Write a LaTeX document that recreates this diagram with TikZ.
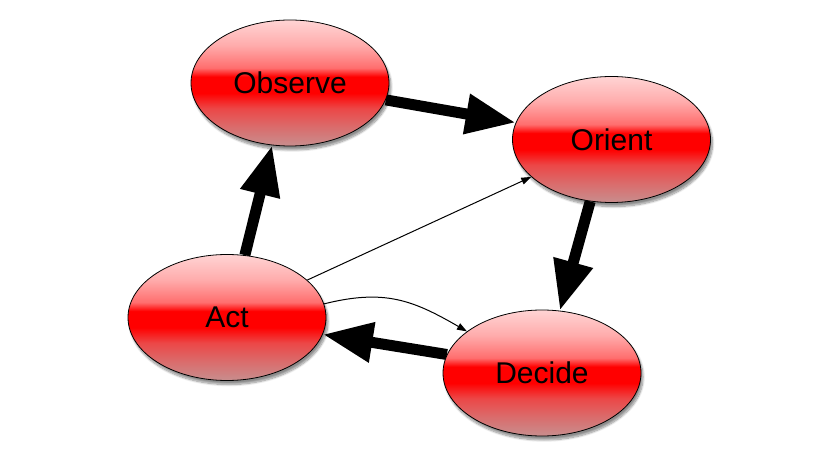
\documentclass[tikz,border=0pt]{standalone}
\usepackage{fontspec}
\setmainfont{Liberation Sans}
\usetikzlibrary{arrows.meta,shapes.geometric,shadows.blur,backgrounds}
\definecolor{gt}{RGB}{255,212,212}
\definecolor{gtwo}{RGB}{255,172,172}
\definecolor{gthree}{RGB}{255,110,110}
\definecolor{gred}{RGB}{255,0,0}
\definecolor{gseven}{RGB}{236,70,70}
\definecolor{geight}{RGB}{218,108,108}
\definecolor{gb}{RGB}{200,142,142}
\pgfdeclareverticalshading{glassred}{100bp}{color(0bp)=(gb); color(25bp)=(gb); color(32.5bp)=(geight); color(40bp)=(gseven); color(46bp)=(gred); color(52.5bp)=(gred); color(56bp)=(gthree); color(65bp)=(gtwo); color(75bp)=(gt); color(100bp)=(gt)}
\begin{document}
\begin{tikzpicture}[x=1pt,y=1pt,
  stage/.style={ellipse, draw=black, line width=0.8pt, shading=glassred,
    minimum width=198pt, minimum height=126pt, inner sep=0pt,
    font=\fontsize{30}{35}\selectfont,
    blur shadow={shadow xshift=2pt, shadow yshift=-4pt, shadow opacity=45, shadow blur steps=10}},
  bigarrow/.style={line width=11pt, -{Triangle[length=50pt,width=38pt]}},
  thinarrow/.style={line width=1pt, -{Triangle[length=10pt,width=7pt]}}]
\useasboundingbox (0,0) rectangle (840,466);
\node[stage] (obs) at (290,383) {Observe};
\node[stage] (ori) at (611.5,326.5) {Orient};
\node[stage] (act) at (227,148.5) {Act};
\node[stage] (dec) at (542,93) {Decide};
\begin{pgfonlayer}{background}
\draw[bigarrow] (obs.-10) -- (ori.170);
\draw[bigarrow] (ori.-109) -- (dec.74);
\draw[bigarrow] (dec.169) -- (act.-10);
\draw[bigarrow] (act.74) -- (obs.-106);
\draw[thinarrow] (act.25) -- (ori.-155);
\draw[thinarrow] (act.8) to[out=14,in=150,looseness=1.1] (dec.151);
\end{pgfonlayer}
\end{tikzpicture}
\end{document}
